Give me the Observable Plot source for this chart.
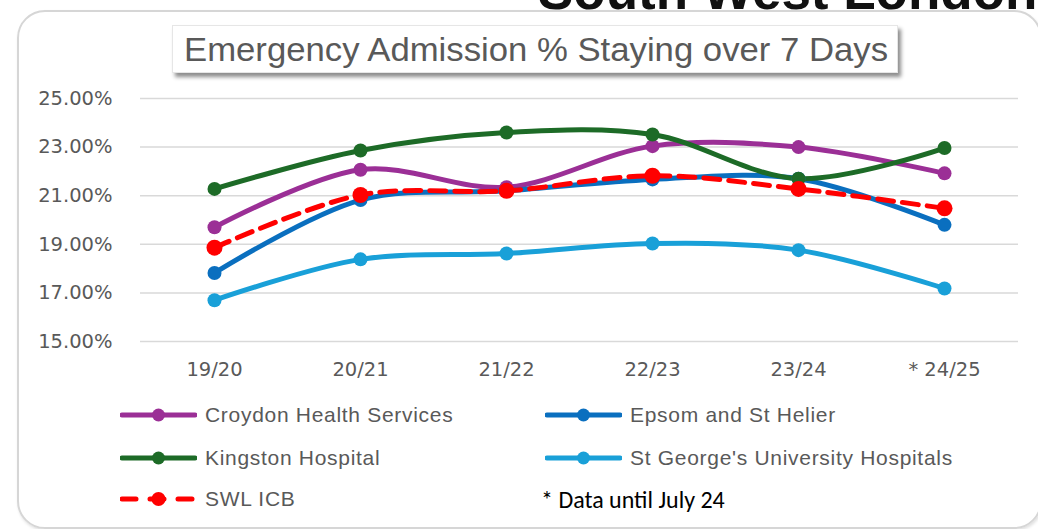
<!DOCTYPE html>
<html>
<head>
<meta charset="utf-8">
<script src="https://cdn.jsdelivr.net/npm/d3@7"></script>
<script src="https://cdn.jsdelivr.net/npm/@observablehq/plot@0.6"></script>
<style>
  html, body { margin: 0; padding: 0; background: #fff; }
  #wrap { position: relative; width: 1038px; height: 529px; overflow: hidden; background: #fff; font-family: "Liberation Sans", Arial, sans-serif; }
  #frame { position: absolute; left: 17px; top: 10px; width: 1021px; height: 515px; border: 2px solid #d6d6d6; border-radius: 28px; box-shadow: 1px 2px 3px rgba(0,0,0,0.12); }
  #big { position: absolute; left: 538px; top: -36px; font: bold 53px/1 "Liberation Sans", Arial, sans-serif; color: #111; white-space: nowrap; }
  #titlebox { position: absolute; left: 172px; top: 25px; width: 724px; height: 46px; background: #fff; box-shadow: 3px 4px 4px rgba(0,0,0,0.45); border: 1px solid #e6e6e6; }
  #plot { position: absolute; left: 0; top: 80px; }
  .leg { position: absolute; display: flex; align-items: center; font: 21px "Liberation Sans", Arial, sans-serif; letter-spacing: 0.7px; color: #595959; white-space: nowrap; }
  .leg svg { margin-right: 8px; }
  #note { position: absolute; left: 541px; top: 488px; font: 24px/1 "Carlito", "Liberation Sans Narrow", "Liberation Sans", sans-serif; color: #000; white-space: nowrap; }
</style>
</head>
<body>
<div id="wrap">
  <div id="frame"></div>
  <div id="big">South West London</div>
  <div id="titlebox"><svg width="724" height="46"><text x="11" y="35" textLength="704" lengthAdjust="spacingAndGlyphs" font-family="Liberation Sans, Arial, sans-serif" font-size="33" fill="#595959">Emergency Admission % Staying over 7 Days</text></svg></div>
  <div id="plot"></div>
  <div id="legend"></div>
  <div id="note">* Data until July 24</div>
</div>
<script>
const years = ["19/20", "20/21", "21/22", "22/23", "23/24", "* 24/25"];
const seriesNames = ["Croydon Health Services", "Epsom and St Helier", "Kingston Hospital", "St George's University Hospitals", "SWL ICB"];
const seriesColors = ["#9B2F96", "#0A6FBF", "#1D6B27", "#19A0D8", "#FF0000"];
const croydon   = [19.70, 22.07, 21.35, 23.04, 23.00, 21.92];
const epsom     = [17.82, 20.82, 21.20, 21.67, 21.70, 19.80];
const kingston  = [21.28, 22.86, 23.60, 23.52, 21.70, 22.96];
const stgeorges = [16.70, 18.38, 18.62, 19.03, 18.76, 17.18];
const swlicb    = [18.86, 21.03, 21.20, 21.82, 21.28, 20.48];
const yTicks = [15, 17, 19, 21, 23, 25];

const allSeries = [croydon, epsom, kingston, stgeorges, swlicb];
const rows = [];
allSeries.forEach((vals, i) => vals.forEach((v, j) => rows.push({series: seriesNames[i], year: years[j], value: v})));

const plain = rows.filter(d => d.series !== "SWL ICB");
const dashed = rows.filter(d => d.series === "SWL ICB");

const chart = Plot.plot({
  width: 1038,
  height: 310,
  marginLeft: 140,
  marginRight: 20,
  marginTop: 18,
  marginBottom: 49,
  style: { fontFamily: "DejaVu Sans, sans-serif", fontSize: "19.5px", color: "#595959", background: "transparent" },
  x: { type: "point", domain: years, padding: 0.5, label: null, tickSize: 0, tickPadding: 22 },
  y: { domain: [15, 25], ticks: yTicks, tickFormat: d => d.toFixed(2) + "%", label: null, tickSize: 0, tickPadding: 28 },
  color: { domain: seriesNames, range: seriesColors },
  marks: [
    Plot.gridY(yTicks, { stroke: "#d9d9d9", strokeOpacity: 1, strokeWidth: 1.5 }),
    Plot.axisY(yTicks, { tickSize: 0, tickPadding: 28, tickFormat: d => d.toFixed(2) + "%", fill: "#595959", fontSize: 19.5 }),
    Plot.axisX({ tickSize: 0, tickPadding: 21, fill: "#595959", fontSize: 19.5 }),
    Plot.line(plain, { x: "year", y: "value", z: "series", stroke: "series", strokeWidth: 5, curve: "catmull-rom" }),
    Plot.dot(plain, { x: "year", y: "value", fill: "series", r: 7 }),
    Plot.line(dashed, { x: "year", y: "value", z: "series", stroke: "series", strokeWidth: 5, strokeDasharray: "16,9", curve: "catmull-rom" }),
    Plot.dot(dashed, { x: "year", y: "value", fill: "series", r: 8 })
  ]
});
document.getElementById("plot").appendChild(chart);

// Legend (HTML, built from series names and colours)
const legPos = [[120, 416], [545, 416], [120, 459], [545, 459], [120, 500]];
const legend = document.getElementById("legend");
seriesNames.forEach((name, i) => {
  const el = document.createElement("div");
  el.className = "leg";
  const [lx, ly] = legPos[i];
  el.style.left = lx + "px";
  el.style.top = (ly - 13) + "px";
  const c = seriesColors[i];
  const dash = name === "SWL ICB";
  el.innerHTML = `<svg width="77" height="24"><line x1="2" x2="75" y1="12" y2="12" stroke="${c}" stroke-width="5" stroke-linecap="round" ${dash ? 'stroke-dasharray="14,14"' : ''}/><circle cx="38.5" cy="12" r="${dash ? 7 : 6.5}" fill="${c}"/></svg><span>${name}</span>`;
  legend.appendChild(el);
});
</script>
</body>
</html>
